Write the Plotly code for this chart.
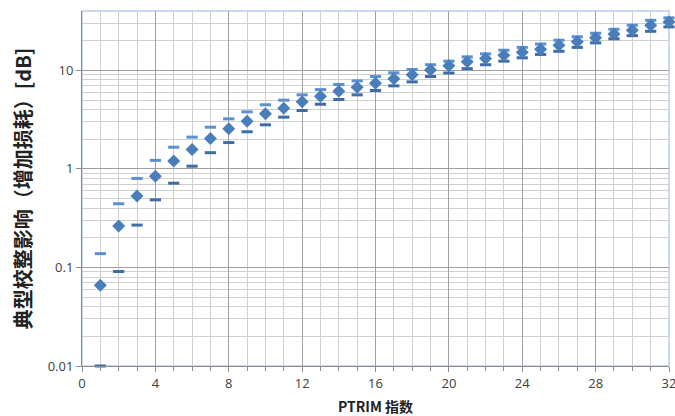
import plotly.graph_objects as go
import math

ptrim = list(range(1, 33))
typical = [0.066, 0.263, 0.53, 0.84, 1.2, 1.57, 2.03, 2.55, 3.05, 3.62, 4.13, 4.79,
           5.46, 6.14, 6.74, 7.4, 8.2, 9.0, 10.1, 11.1, 12.2, 13.2, 14.2, 15.3,
           16.4, 18.0, 19.5, 21.4, 23.4, 25.5, 28.7, 31.0]
upper = [0.138, 0.443, 0.80, 1.22, 1.66, 2.1, 2.65, 3.22, 3.79, 4.47, 4.98, 5.64,
         6.38, 7.18, 7.82, 8.65, 9.44, 10.2, 11.4, 12.4, 13.7, 14.7, 16.0, 17.1,
         18.5, 20.2, 21.9, 23.8, 26.1, 28.7, 32.2, 34.1]
lower = [0.01, 0.091, 0.269, 0.485, 0.716, 1.065, 1.46, 1.85, 2.38, 2.80, 3.35, 3.91,
         4.53, 5.06, 5.64, 6.24, 6.96, 7.64, 8.65, 9.4, 10.4, 11.4, 12.4, 13.4,
         14.5, 15.6, 17.1, 19.0, 20.9, 22.5, 24.9, 27.6]

y_ticks = [0.01, 0.1, 1, 10]
y_ticktext = ["0.01", "0.1", "1", "10"]
x_ticks = [0, 4, 8, 12, 16, 20, 24, 28, 32]

fig = go.Figure()
fig.add_trace(go.Scatter(x=ptrim, y=upper, mode="markers", cliponaxis=False,
                         marker=dict(symbol="line-ew", size=8,
                                     line=dict(width=3, color="#5B90D1"))))
fig.add_trace(go.Scatter(x=ptrim, y=lower, mode="markers", cliponaxis=False,
                         marker=dict(symbol="line-ew", size=8,
                                     line=dict(width=3, color="#3D6CA6"))))
fig.add_trace(go.Scatter(x=ptrim, y=typical, mode="markers", cliponaxis=False,
                         marker=dict(symbol="diamond", size=10, color="#4A7EBB",
                                     line=dict(width=0))))

fig.update_layout(
    width=675, height=416,
    margin=dict(l=82, r=6, t=11, b=50),
    plot_bgcolor="white", paper_bgcolor="white",
    showlegend=False,
    font=dict(family="Open Sans", size=13, color="#404040"),
)
fig.update_xaxes(
    range=[0, 32], tickvals=x_ticks, ticks="outside", ticklen=5, tickcolor="#8C8C8C",
    ticklabeloverflow="allow", automargin=False,
    showgrid=True, gridcolor="#A0A0A0", gridwidth=1, zeroline=False,
    showline=True, linecolor="#8C8C8C", linewidth=1, mirror=False,
    minor=dict(dtick=1, showgrid=True, gridcolor="#CFCFCF", ticks="outside",
               ticklen=4, tickcolor="#8C8C8C"),
    title=dict(text="<b>PTRIM 指数</b>", font=dict(size=14, color="#222",
               family="Noto Sans CJK SC"), standoff=11),
    tickfont=dict(size=13, color="#404040"),
)
fig.update_yaxes(
    type="log", range=[-2, math.log10(40)], tickvals=y_ticks, ticktext=y_ticktext,
    ticks="outside", ticklen=5, tickcolor="#8C8C8C", automargin=False,
    showgrid=True, gridcolor="#A0A0A0", gridwidth=1, zeroline=False,
    showline=True, linecolor="#8C8C8C", linewidth=1,
    minor=dict(dtick="D1", showgrid=True, gridcolor="#CFCFCF"),
    title=dict(text="<b>典型校整影响（增加损耗）[dB]</b>",
               font=dict(size=20, color="#222", family="Noto Sans CJK SC"), standoff=10),
    tickfont=dict(size=13, color="#404040"),
)
fig.add_shape(type="rect", xref="paper", yref="paper", x0=0, y0=0, x1=1, y1=1,
              line=dict(color="#B9CDE5", width=1.5), layer="below")

fig.write_html("out.html")
